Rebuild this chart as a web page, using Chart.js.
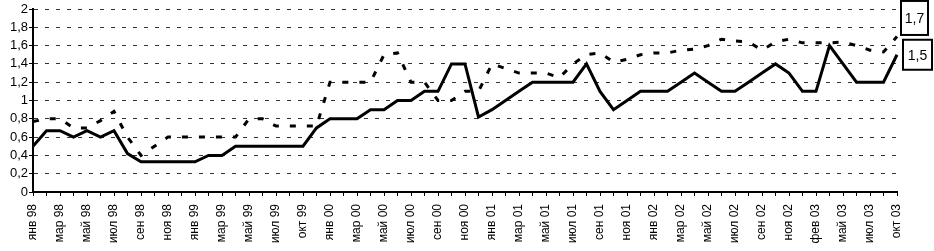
<!DOCTYPE html>
<html><head><meta charset="utf-8">
<script src="https://cdn.jsdelivr.net/npm/chart.js@4"></script>
<style>html,body{margin:0;padding:0;background:#fff}#wrap{width:934px;height:251px}</style>
</head><body><div id="wrap"><canvas id="c" width="934" height="251"></canvas></div>
<script>
const categories = [
 'янв 98','фев 98','мар 98','апр 98','май 98','июн 98','июл 98','авг 98','сен 98','окт 98','ноя 98','дек 98',
 'янв 99','фев 99','мар 99','апр 99','май 99','июн 99','июл 99','авг 99','окт 99','ноя 99',
 'янв 00','фев 00','мар 00','апр 00','май 00','июн 00','июл 00','авг 00','сен 00','окт 00','ноя 00','дек 00',
 'янв 01','фев 01','мар 01','апр 01','май 01','июн 01','июл 01','авг 01','сен 01','окт 01','ноя 01','дек 01',
 'янв 02','фев 02','мар 02','апр 02','май 02','июн 02','июл 02','авг 02','сен 02','окт 02','ноя 02','дек 02',
 'фев 03','мар 03','май 03','июн 03','июл 03','авг 03','окт 03'
];
const seriesSolid = [
 0.5,0.67,0.67,0.6,0.67,0.6,0.67,0.42,0.33,0.33,0.33,0.33,
 0.33,0.4,0.4,0.5,0.5,0.5,0.5,0.5,0.5,0.7,
 0.8,0.8,0.8,0.9,0.9,1.0,1.0,1.1,1.1,1.4,1.4,0.82,
 0.9,1.0,1.1,1.2,1.2,1.2,1.2,1.4,1.1,0.9,1.0,1.1,
 1.1,1.1,1.2,1.3,1.2,1.1,1.1,1.2,1.3,1.4,1.3,1.1,
 1.1,1.6,1.4,1.2,1.2,1.2,1.5
];
const seriesDashed = [
 0.77,0.8,0.8,0.7,0.7,0.78,0.88,0.6,0.4,0.5,0.6,0.6,
 0.6,0.6,0.6,0.6,0.8,0.8,0.72,0.72,0.72,0.72,
 1.2,1.2,1.2,1.2,1.5,1.52,1.2,1.2,1.0,1.0,1.1,1.1,
 1.4,1.35,1.3,1.3,1.3,1.25,1.4,1.5,1.52,1.42,1.45,1.5,
 1.52,1.52,1.55,1.56,1.6,1.67,1.65,1.64,1.55,1.64,1.67,1.63,
 1.63,1.63,1.64,1.6,1.55,1.53,1.7
];
const yTickValues = [0,0.2,0.4,0.6,0.8,1,1.2,1.4,1.6,1.8,2];

function fmt(v){ return String(Math.round(v*10)/10).replace('.', ','); }

const endLabels = {
  id: 'endLabels',
  afterDraw(chart){
    const {ctx, scales:{x, y}} = chart;
    const n = categories.length - 1;
    const px = x.getPixelForValue(n);
    const items = [
      {v: seriesDashed[n], dx: 4, dy: -18.5, w: 27, h: 34},
      {v: seriesSolid[n], dx: 6, dy: 0, w: 29, h: 30}
    ];
    ctx.save();
    ctx.font = '14px "Liberation Sans", Arial, sans-serif';
    ctx.textAlign = 'center';
    ctx.textBaseline = 'middle';
    items.forEach(it => {
      const cy = y.getPixelForValue(it.v) + it.dy;
      const left = px + it.dx, top = cy - it.h/2;
      ctx.fillStyle = '#fff';
      ctx.fillRect(left, top, it.w, it.h);
      ctx.lineWidth = 2; ctx.strokeStyle = '#000';
      ctx.strokeRect(left, top, it.w, it.h);
      ctx.fillStyle = '#000';
      ctx.fillText(fmt(it.v), left + it.w/2, cy + 1);
    });
    ctx.restore();
  }
};

new Chart(document.getElementById('c').getContext('2d'), {
  type: 'line',
  data: {
    labels: categories,
    datasets: [
      {data: seriesDashed, borderColor: '#000', borderWidth: 3, borderDash: [6, 11], pointRadius: 0, tension: 0, fill: false},
      {data: seriesSolid, borderColor: '#000', borderWidth: 3, pointRadius: 0, tension: 0, fill: false, borderJoinStyle: 'miter'}
    ]
  },
  options: {
    responsive: false, animation: false, events: [],
    layout: {padding: {top: 9, right: 37, left: 0, bottom: 0}},
    plugins: {legend: {display: false}, tooltip: {enabled: false}},
    scales: {
      x: {
        offset: false,
        grid: {drawOnChartArea: false, drawTicks: true, tickLength: 4, tickColor: '#000', tickWidth: 1},
        border: {display: true, color: '#000', width: 2},
        ticks: {autoSkip: false, maxRotation: 90, minRotation: 90, padding: 8, color: '#000',
          font: {family: '"Liberation Sans", Arial, sans-serif', size: 12},
          callback: (v, i) => (i % 2 === 0 ? categories[i] : '')},
        afterFit(s){ s.height = 59; }
      },
      y: {
        min: 0, max: 2,
        afterBuildTicks(s){ s.ticks = yTickValues.map(v => ({value: v})); },
        grid: {color: '#333', lineWidth: 1, borderDash: [4, 7], drawTicks: true, tickLength: 4, tickColor: '#000', tickWidth: 1, tickBorderDash: []},
        border: {display: true, color: '#000', width: 2, dash: [4, 7]},
        ticks: {autoSkip: false, padding: 1, color: '#000', font: {family: '"Liberation Sans", Arial, sans-serif', size: 13},
          callback: v => fmt(v)},
        afterFit(s){ s.width = 33; }
      }
    }
  },
  plugins: [endLabels]
});
</script>
</body></html>
